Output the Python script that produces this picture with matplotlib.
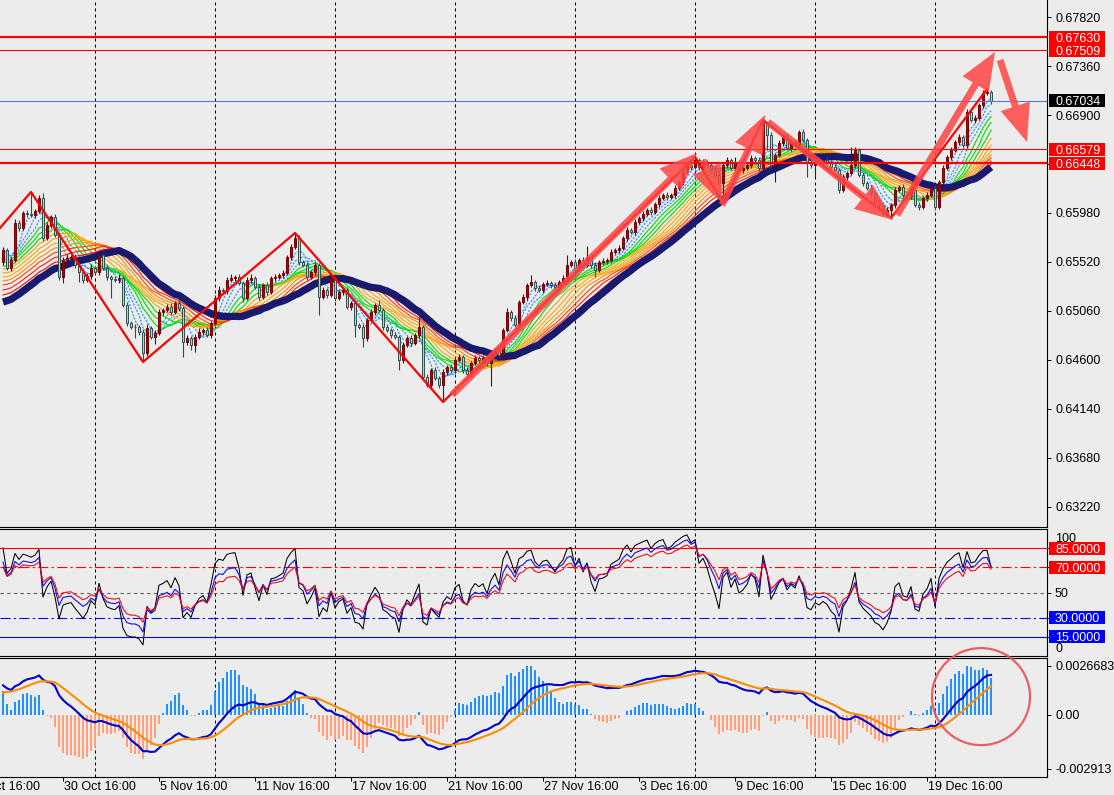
import numpy as np
import matplotlib
matplotlib.use("Agg")
import matplotlib.pyplot as plt
from matplotlib.patches import Rectangle, Ellipse, FancyArrowPatch

# ---------------- data ----------------
first_open = 0.65520
closes = [
    0.65633, 0.65463, 0.65539, 0.65886, 0.65839, 0.65980, 0.65971, 0.65961, 0.65999, 0.66121,
    0.65745, 0.65867, 0.65942, 0.65773, 0.65379, 0.65539, 0.65557, 0.65567, 0.65492, 0.65426,
    0.65351, 0.65388, 0.65463, 0.65426, 0.65586, 0.65463, 0.65379, 0.65360, 0.65351, 0.65370,
    0.65116, 0.64947, 0.64910, 0.64908, 0.64862, 0.64665, 0.64900, 0.64815, 0.64853, 0.65050,
    0.65069, 0.65097, 0.65050, 0.65135, 0.65088, 0.64769, 0.64806, 0.64740, 0.64815, 0.64862,
    0.64881, 0.64834, 0.64947, 0.65182, 0.65257, 0.65250, 0.65351, 0.65370, 0.65379, 0.65323,
    0.65182, 0.65351, 0.65370, 0.65285, 0.65191, 0.65304, 0.65238, 0.65370, 0.65379, 0.65398,
    0.65417, 0.65567, 0.65661, 0.65745, 0.65520, 0.65492, 0.65379, 0.65426, 0.65492, 0.65191,
    0.65257, 0.65210, 0.65370, 0.65182, 0.65238, 0.65257, 0.65097, 0.65135, 0.64928, 0.64910,
    0.64806, 0.64975, 0.65050, 0.65116, 0.65069, 0.64910, 0.64881, 0.64834, 0.64815, 0.64600,
    0.64740, 0.64806, 0.64759, 0.64834, 0.64910, 0.64440, 0.64365, 0.64506, 0.64431, 0.64365,
    0.64487, 0.64534, 0.64506, 0.64600, 0.64628, 0.64506, 0.64468, 0.64571, 0.64618, 0.64600,
    0.64618, 0.64571, 0.64646, 0.64693, 0.64646, 0.64881, 0.65050, 0.64994, 0.64928, 0.65144,
    0.65191, 0.65304, 0.65332, 0.65276, 0.65257, 0.65313, 0.65323, 0.65304, 0.65285, 0.65332,
    0.65370, 0.65492, 0.65520, 0.65463, 0.65539, 0.65492, 0.65567, 0.65492, 0.65445, 0.65520,
    0.65525, 0.65539, 0.65614, 0.65633, 0.65651, 0.65745, 0.65820, 0.65802, 0.65895, 0.65933,
    0.65971, 0.66008, 0.65989, 0.66064, 0.66121, 0.66149, 0.66130, 0.66149, 0.66215, 0.66271,
    0.66365, 0.66431, 0.66412, 0.66478, 0.66412, 0.66459, 0.66431, 0.66384, 0.66337, 0.66262,
    0.66431, 0.66478, 0.66402, 0.66459, 0.66384, 0.66402, 0.66431, 0.66496, 0.66478, 0.66402,
    0.66834, 0.66712, 0.66431, 0.66525, 0.66637, 0.66694, 0.66590, 0.66647, 0.66618, 0.66741,
    0.66665, 0.66459, 0.66431, 0.66478, 0.66459, 0.66478, 0.66459, 0.66412, 0.66384, 0.66196,
    0.66318, 0.66356, 0.66431, 0.66572, 0.66337, 0.66262, 0.66215, 0.66168, 0.66083, 0.66055,
    0.65980, 0.66008, 0.66055, 0.66196, 0.66224, 0.66149, 0.66140, 0.66196, 0.66055, 0.66036,
    0.66121, 0.66149, 0.66215, 0.66036, 0.66271, 0.66402, 0.66506, 0.66572, 0.66647, 0.66694,
    0.66618, 0.66928, 0.66853, 0.66872, 0.66994, 0.67107, 0.67116, 0.67034,
]
# wick lengths beyond the body, in pips
up_wick = [
    3, 2, 3, 4, 3, 2, 3, 21, 2, 3,   5, 3, 2, 3, 2, 3, 4, 2, 3, 2,
    2, 3, 4, 2, 3, 2, 3, 2, 3, 4,    2, 3, 2, 3, 2, 3, 4, 2, 3, 3,
    2, 3, 4, 2, 3, 2, 3, 2, 3, 4,    2, 3, 2, 3, 4, 2, 3, 4, 2, 3,
    2, 3, 4, 2, 3, 2, 3, 2, 3, 2,    3, 2, 3, 6, 3, 2, 3, 2, 3, 2,
    3, 2, 3, 2, 3, 2, 3, 2, 3, 2,    3, 2, 3, 2, 5, 2, 3, 2, 3, 2,
    3, 2, 3, 2, 9, 2, 3, 2, 3, 2,    3, 2, 3, 2, 3, 2, 3, 2, 3, 2,
    3, 2, 3, 2, 3, 2, 4, 2, 3, 2,    3, 2, 7, 2, 3, 2, 3, 2, 3, 2,
    3, 9, 2, 3, 2, 3, 10, 2, 3, 2,   3, 2, 3, 2, 3, 2, 3, 2, 3, 2,
    3, 2, 3, 2, 3, 2, 3, 2, 3, 2,    3, 2, 3, 4, 2, 3, 2, 3, 2, 3,
    2, 3, 2, 5, 2, 3, 2, 3, 2, 3,    2, 0, 3, 2, 3, 2, 3, 2, 3, 2,
    3, 2, 3, 2, 3, 2, 3, 2, 3, 2,    3, 2, 17, 3, 2, 3, 2, 3, 2, 3,
    2, 3, 2, 3, 2, 3, 2, 3, 2, 3,    2, 3, 2, 3, 2, 3, 2, 3, 2, 3,
    2, 3, 2, 3, 2, 3, 3, 2,
]
dn_wick = [
    3, 2, 3, 2, 3, 2, 3, 2, 3, 2,    3, 2, 3, 2, 3, 6, 3, 2, 3, 9,
    3, 2, 3, 2, 3, 2, 3, 18, 2, 3,   2, 3, 2, 10, 3, 8, 3, 2, 7, 2,
    3, 2, 3, 2, 3, 14, 3, 5, 7, 2,   3, 2, 3, 2, 3, 2, 3, 2, 3, 2,
    4, 2, 3, 2, 3, 2, 3, 2, 3, 2,    3, 2, 3, 2, 3, 2, 3, 2, 3, 17,
    2, 3, 2, 3, 2, 3, 2, 3, 11, 2,   8, 3, 2, 3, 2, 3, 2, 3, 2, 9,
    3, 2, 3, 2, 3, 3, 2, 3, 2, 3,    16, 3, 2, 3, 2, 3, 2, 3, 2, 3,
    2, 3, 22, 3, 2, 3, 2, 3, 2, 3,   2, 3, 2, 3, 2, 3, 2, 3, 2, 3,
    2, 3, 2, 3, 2, 3, 2, 3, 7, 2,    3, 2, 3, 2, 3, 2, 3, 2, 3, 2,
    3, 2, 3, 2, 3, 2, 3, 2, 3, 2,    3, 2, 3, 2, 3, 2, 3, 2, 3, 2,
    19, 3, 2, 3, 2, 3, 2, 3, 2, 3,   2, 14, 3, 16, 2, 3, 2, 3, 2, 3,
    2, 14, 3, 11, 2, 3, 2, 3, 2, 3,  2, 3, 2, 3, 2, 3, 2, 3, 2, 3,
    2, 3, 8, 3, 2, 3, 2, 3, 2, 3,    2, 3, 2, 3, 2, 3, 2, 3, 2, 3,
    2, 3, 2, 3, 2, 3, 2, 3,
]

# moving-average ribbon (simple MAs): periods, colours and their values at the first bar
ribbon_periods = [4, 6, 8, 10, 12, 14, 16, 18, 20, 22, 24, 26, 28]
ribbon_colors = ['#1E90FF', '#1E90FF', '#1E90FF', '#00DD00', '#00DD00', '#00DD00',
                 '#FFA500', '#FFA500', '#FFA500', '#FF8C00',
                 '#FF4500', '#FF2000', '#FF0000']
ribbon_seeds = [0.65651, 0.65614, 0.65576, 0.65548, 0.65520, 0.65482, 0.65454,
                0.65417, 0.65379, 0.65341, 0.65304, 0.65257, 0.65210]
navy_period = 30
navy_seed = 0.65144

# oscillators (three RSI lines) and their values at the first bar
rsi_periods = [6, 10, 14]
rsi_colors = ['black', '#0000FF', '#FF0000']
rsi_seeds = [85, 74, 70]
rsi_levels = [85, 70, 50, 30, 15]

# MACD
macd_fast, macd_slow, macd_sig = 12, 26, 9
macd_seeds = [0.65520, 0.65360, 0.00120]   # fast EMA, slow EMA, signal at first bar

# horizontal levels
red_levels = [0.67630, 0.67509, 0.66579, 0.66448]
red_level_thick = [True, False, False, True]
bid_price = 0.67034

# zigzag pivots (bar, price)
zz_bars = [-0.75, 7, 35, 73, 110, 173, 180, 190, 222, 246]
zz_prices = [0.65839, 0.66177, 0.64581, 0.65792, 0.64205, 0.66506, 0.66074, 0.66853,
             0.65933, 0.67144]

# hand-drawn arrows (bar, price) -> (bar, price)
arrows = [
    ((112.25, 0.64271), (173.5, 0.66543)),
    ((175.0, 0.66478), (179.75, 0.66074)),
    ((179.75, 0.66055), (190.5, 0.66900)),
    ((191.25, 0.66834), (222.5, 0.65914)),
    ((223.5, 0.65961), (248.0, 0.67492)),
    ((249.25, 0.67417), (256.0, 0.66647)),
]
circle_center = (244.5, 0.00099)

# axes labels
main_ticks = [0.67820, 0.67360, 0.66900, 0.66440, 0.65980, 0.65520, 0.65060,
              0.64600, 0.64140, 0.63680, 0.63220]
macd_ticks = [0.0026683, 0.0, -0.002913]
macd_tick_labels = ['0.0026683', '0.00', '-0.002913']
grid_bars = [23, 53, 83, 113, 143, 173, 203, 233]
xlabel_bars = [-9, 15, 39, 63, 87, 111, 135, 159, 183, 207, 231]
xlabels = ['24 Oct 16:00', '30 Oct 16:00', '5 Nov 16:00', '11 Nov 16:00', '17 Nov 16:00',
           '21 Nov 16:00', '27 Nov 16:00', '3 Dec 16:00', '9 Dec 16:00', '15 Dec 16:00',
           '19 Dec 16:00']

# ---------------- computations ----------------
c = np.array(closes)
o = np.array([first_open] + closes[:-1])
n = len(c)
x = np.arange(n)
hi = np.maximum(o, c) + np.array(up_wick) * 0.0001
lo = np.minimum(o, c) - np.array(dn_wick) * 0.0001


def ema(vals, period, seed):
    a = 2.0 / (period + 1)
    out = np.empty(len(vals))
    e = seed
    out[0] = e
    for i in range(1, len(vals)):
        e = e + a * (vals[i] - e)
        out[i] = e
    return out


def sma(vals, period, start):
    # history before the first bar is taken as a constant level that gives `start`
    pre = (start * period - vals[0]) / (period - 1)
    ext = np.concatenate([np.full(period - 1, pre), vals])
    return np.convolve(ext, np.ones(period) / period, mode='valid')


def rsi(vals, period, seed):
    d = np.diff(vals)
    scale = np.mean(np.abs(d[:30]))
    ag = seed / 100 * scale
    al = (1 - seed / 100) * scale
    out = [seed]
    for dd in d:
        ag = (ag * (period - 1) + max(dd, 0)) / period
        al = (al * (period - 1) + max(-dd, 0)) / period
        out.append(100 * ag / (ag + al))
    return np.array(out)


fast = ema(c, macd_fast, macd_seeds[0])
slow = ema(c, macd_slow, macd_seeds[1])
macd = fast - slow
signal = ema(macd, macd_sig, macd_seeds[2])
diff = macd - signal
hist = diff * (macd_ticks[0] / diff.max())

# ---------------- figure ----------------
W, H, DPI = 1114, 795, 100
BG = '#ECECEC'
plt.rcParams['font.family'] = ['Liberation Sans', 'DejaVu Sans']
FS = 9

fig = plt.figure(figsize=(W / DPI, H / DPI), dpi=DPI, facecolor=BG)


def px_axes(top, bottom, left=0, right=1047):
    return fig.add_axes([left / W, 1 - bottom / H, (right - left) / W, (bottom - top) / H])


ax = px_axes(0, 527)
ax_rsi = px_axes(529, 656)
ax_macd = px_axes(658, 777)

for a in (ax, ax_rsi, ax_macd):
    a.set_facecolor(BG)
    a.set_xlim(-0.75, 261)
    a.spines['left'].set_visible(False)
    for s in ('right', 'bottom', 'top'):
        a.spines[s].set_color('black')
        a.spines[s].set_linewidth(0.8)
    a.yaxis.tick_right()
    a.tick_params(axis='y', direction='out', length=3, width=0.7, labelright=False,
                  labelleft=False, left=False)
    a.tick_params(axis='x', bottom=False, labelbottom=False)
    for b in grid_bars:
        a.axvline(b, color='black', lw=0.72, ls=(0, (3, 3)), zorder=1)
ax.spines['top'].set_visible(False)

# --- main panel ---
ax.set_ylim(0.63031, 0.67980)
ax.set_yticks(main_ticks)

for per, col, sd in zip(ribbon_periods, ribbon_colors, ribbon_seeds):
    line = sma(c, per, sd)
    ls = (0, (2, 1.2)) if col == '#1E90FF' else '-'
    ax.plot(x, line, color=col, lw=0.8, ls=ls, zorder=2)
ax.plot(x, sma(c, navy_period, navy_seed), color='#191970', lw=5.2, zorder=3,
        solid_capstyle='butt')

up = c >= o
fill = np.where(up, '#B00000', '#AADDB5')
edge = np.where(up, '#7A0000', '#2F4F4F')
ax.vlines(x, lo, hi, colors=edge, lw=0.8, zorder=4)
ax.bar(x, np.maximum(np.abs(c - o), 0.00002), bottom=np.minimum(o, c), width=0.6,
       color=fill, edgecolor=edge, linewidth=0.7, zorder=5)

for lv, thick in zip(red_levels, red_level_thick):
    ax.axhline(lv, color='#FF0000', lw=1.6 if thick else 0.8, zorder=6)
ax.axhline(bid_price, color='#5A78D0', lw=0.8, zorder=6)

ax.plot(zz_bars, zz_prices, color='#FF0000', lw=1.6, zorder=7)

for (p0, p1) in arrows:
    ar = FancyArrowPatch(p0, p1, arrowstyle='simple,head_length=2.7,head_width=2.2,tail_width=0.5',
                         mutation_scale=10, color='#FF4545', alpha=0.85, lw=0,
                         shrinkA=0, shrinkB=0, zorder=9)
    ax.add_patch(ar)

# --- RSI panel ---
ax_rsi.set_ylim(0, 100)
ax_rsi.set_yticks(rsi_levels)
ax_rsi.axhline(85, color='#FF0000', lw=0.8, zorder=2)
ax_rsi.axhline(70, color='#FF0000', lw=0.8, ls=(0, (9, 3, 2, 3)), zorder=2)
ax_rsi.axhline(50, color='#606060', lw=0.8, ls=(0, (3, 3)), zorder=2)
ax_rsi.axhline(30, color='#0000FF', lw=0.8, ls=(0, (9, 3, 2, 3)), zorder=2)
ax_rsi.axhline(15, color='#0000FF', lw=0.8, zorder=2)
for per, col, sd in zip(rsi_periods, rsi_colors, rsi_seeds):
    ax_rsi.plot(x, rsi(c, per, sd), color=col, lw=0.75, zorder=3)

# --- MACD panel ---
ax_macd.set_ylim(-0.00336, 0.00308)
ax_macd.set_yticks(macd_ticks)
hcol = np.where(hist >= 0, '#1E90FF', '#FFA07A')
ax_macd.bar(x, hist, width=0.7, color=hcol, lw=0, zorder=2)
ax_macd.plot(x, macd, color='#0000CD', lw=1.5, zorder=3)
ax_macd.plot(x, signal, color='#FF8C00', lw=1.5, zorder=3)
ax_macd.set_xticks(xlabel_bars[1:])
ax_macd.tick_params(axis='x', bottom=True, direction='out', length=3, width=0.7)

# --- right-hand labels ---


def rlabel(a, value, text, fc=None, dy=0):
    yd = a.transData.transform((0, value))[1] + dy
    if fc:
        fig.add_artist(Rectangle((1049 / W, (yd - 6.5) / H), 56 / W, 13 / H,
                                 transform=fig.transFigure, fc=fc, ec='none', zorder=20))
    fig.text(1055 / W, yd / H, text, color='white' if fc else 'black', fontsize=FS,
             va='center_baseline', ha='left', zorder=21)


for v in main_ticks:
    rlabel(ax, v, '%.5f' % v)
for lv in red_levels:
    rlabel(ax, lv, '%.5f' % lv, fc='#FF0000')
rlabel(ax, bid_price, '%.5f' % bid_price, fc='black')

rlabel(ax_rsi, 100, '100', dy=-8)
rlabel(ax_rsi, 85, '85.0000', fc='#FF0000')
rlabel(ax_rsi, 70, '70.0000', fc='#FF0000')
rlabel(ax_rsi, 50, '50')
rlabel(ax_rsi, 30, '30.0000', fc='#0000FF')
rlabel(ax_rsi, 15, '15.0000', fc='#0000FF')
rlabel(ax_rsi, 0, '0', dy=8)

for v, t in zip(macd_ticks, macd_tick_labels):
    rlabel(ax_macd, v, t)

# --- time labels ---
for b, t in zip(xlabel_bars, xlabels):
    xd = ax_macd.transData.transform((b, 0))[0]
    fig.text((xd + 1) / W, 1 - 781 / H, t, fontsize=FS, va='top', ha='left')

# --- red circle highlight ---
cx, cy = ax_macd.transData.transform(circle_center)
fig.add_artist(Ellipse((cx / W, cy / H), 98 / W, 97 / H, transform=fig.transFigure,
                       fill=False, ec='#EE5050', lw=1.6, alpha=0.9, zorder=15))

fig.savefig('out.png', dpi=DPI, facecolor=BG)
